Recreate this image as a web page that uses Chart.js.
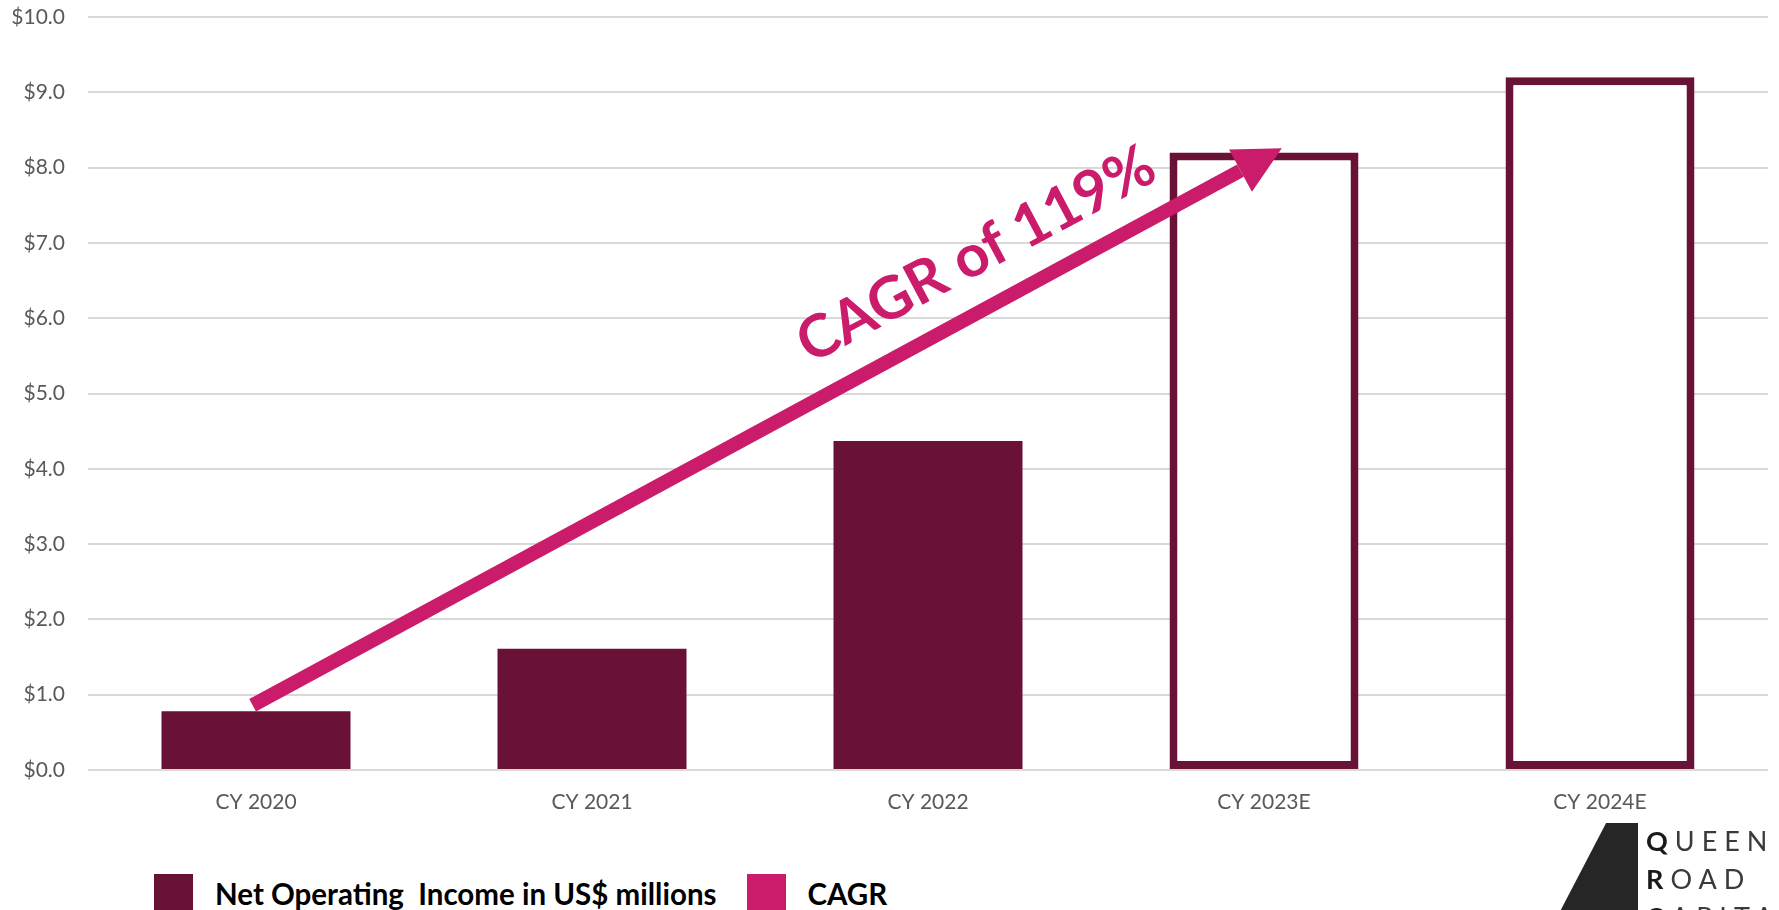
<!DOCTYPE html>
<html>
<head>
<meta charset="utf-8">
<title>Net Operating Income</title>
<script src="https://cdn.jsdelivr.net/npm/chart.js@4.4.0/dist/chart.umd.min.js"></script>
<style>
  html, body { margin: 0; padding: 0; background: #fff; overflow: hidden; }
  #wrap { position: relative; width: 1779px; height: 910px; overflow: hidden; font-family: Lato, "Open Sans", sans-serif; }
  #chart-box { position: absolute; left: 0; top: 0; width: 1779px; height: 840px; }
  .legend { position: absolute; left: 154px; top: 874px; display: flex; align-items: center; }
  .legend-item { display: flex; align-items: center; margin-right: 30px; font-weight: 700; font-size: 29.5px; color: #000; white-space: pre; }
  .legend-color { width: 39px; height: 39px; margin-right: 22px; flex: none; }
  .logo-mark { position: absolute; left: 1554px; top: 823px; width: 84px; height: 100px; background: #262626;
    clip-path: polygon(62% 0, 100% 0, 100% 100%, 0 100%); }
  .logo-text { position: absolute; left: 1646px; top: 822px; font-size: 27px; line-height: 38px; letter-spacing: 7px; color: #3a3a3a; }
  .logo-text b { color: #1a1a1a; }
</style>
</head>
<body>
<div id="wrap">
  <div id="chart-box"><canvas id="noi-chart"></canvas></div>
  <div id="noi-legend" class="legend"></div>
  <div class="logo-mark"></div>
  <div class="logo-text"><b>Q</b>UEEN<br><b>R</b>OAD<br><b>C</b>APITAL</div>
</div>
<script>
// Chart data
const categories = ['CY 2020', 'CY 2021', 'CY 2022', 'CY 2023E', 'CY 2024E'];
const noiValues = [0.78, 1.61, 4.37, 8.2, 9.2];
const isEstimate = [false, false, false, true, true];

// CAGR arrow: start and end of the shaft (x in category-index units)
const cagrX = [-0.01, 2.93];
const cagrY = [0.86, 7.96];
const cagrText = 'CAGR of 119%';

const MAROON = '#6a1138';
const PINK = '#cb1c6c';
const TICK_FONT = { family: 'Lato, "Open Sans", sans-serif', size: 21 };

// Draws the arrow head at the end of the CAGR line and the rotated label
const cagrArrow = {
  id: 'cagrArrow',
  afterDatasetsDraw: function(chart, args, opts) {
    const pts = chart.getDatasetMeta(1).data;
    if (pts.length < 2) return;
    const a = pts[0], b = pts[pts.length - 1];
    const ang = Math.atan2(b.y - a.y, b.x - a.x);
    const ctx = chart.ctx;

    ctx.save();
    ctx.translate(b.x, b.y);
    ctx.rotate(ang);
    ctx.beginPath();
    ctx.moveTo(opts.headLength, 0);
    ctx.lineTo(0, -opts.headWidth / 2);
    ctx.lineTo(0, opts.headWidth / 2);
    ctx.closePath();
    ctx.fillStyle = opts.color;
    ctx.fill();
    ctx.restore();

    // label sits above the shaft, squeezed a bit to look like a condensed face
    const lx = chart.scales.x2.getPixelForValue(opts.labelAt[0]);
    const ly = chart.scales.y.getPixelForValue(opts.labelAt[1]);
    ctx.save();
    ctx.translate(lx, ly);
    ctx.rotate(opts.labelAngle * Math.PI / 180);
    ctx.font = 'bold ' + opts.labelSize + 'px Lato, sans-serif';
    const w = ctx.measureText(opts.text).width;
    ctx.scale(opts.labelWidth / w, 1);
    ctx.textAlign = 'center';
    ctx.textBaseline = 'alphabetic';
    ctx.fillStyle = opts.color;
    ctx.fillText(opts.text, 0, 0);
    ctx.restore();
  }
};

const chart = new Chart(document.getElementById('noi-chart'), {
  type: 'bar',
  data: {
    labels: categories,
    datasets: [
      {
        type: 'bar',
        label: 'Net Operating  Income in US$ millions',
        data: noiValues,
        backgroundColor: isEstimate.map(e => e ? '#ffffff' : MAROON),
        borderColor: MAROON,
        borderWidth: isEstimate.map(e => e ? 8 : 0),
        borderSkipped: false,
        grouped: false,
        barPercentage: 0.5625,
        categoryPercentage: 1,
        legendColor: MAROON,
        order: 2
      },
      {
        type: 'line',
        label: 'CAGR',
        data: cagrX.map((x, i) => ({ x: x, y: cagrY[i] })),
        xAxisID: 'x2',
        borderColor: PINK,
        backgroundColor: PINK,
        borderWidth: 14,
        borderCapStyle: 'butt',
        pointRadius: 0,
        fill: false,
        legendColor: PINK,
        order: 1
      }
    ]
  },
  options: {
    responsive: true,
    maintainAspectRatio: false,
    animation: false,
    layout: { autoPadding: false, padding: { top: 17, right: 11, left: 0, bottom: 0 } },
    plugins: {
      legend: { display: false },
      tooltip: { enabled: false },
      cagrArrow: {
        color: PINK,
        headLength: 47,
        headWidth: 48,
        text: cagrText,
        labelAt: [2.17, 6.62],
        labelAngle: -28,
        labelSize: 59,
        labelWidth: 396
      }
    },
    scales: {
      x: {
        type: 'category',
        grid: { display: false },
        border: { display: false },
        ticks: { color: '#595959', font: TICK_FONT, padding: 12 },
        afterFit: function(scale) { scale.height = 70; }
      },
      x2: {
        type: 'linear',
        display: false,
        offset: false,
        grid: { offset: false },
        min: -0.5,
        max: 4.5
      },
      y: {
        min: 0,
        max: 10,
        border: { display: false },
        grid: { color: '#d9d9d9', lineWidth: 2, drawTicks: false },
        ticks: {
          stepSize: 1,
          color: '#595959',
          font: TICK_FONT,
          padding: 23,
          callback: function(value) { return '$' + value.toFixed(1); }
        },
        afterFit: function(scale) {
          scale.width = 88;
          scale.paddingTop = 0;
          scale.paddingBottom = 0;
        }
      }
    }
  },
  plugins: [cagrArrow]
});

// HTML legend built from the datasets
const legendContainer = document.getElementById('noi-legend');
chart.data.datasets.forEach(ds => {
  const legendItem = document.createElement('div');
  legendItem.className = 'legend-item';
  legendItem.innerHTML = `
    <div class="legend-color" style="background-color: ${ds.legendColor}"></div><span>${ds.label}</span>`;
  legendContainer.appendChild(legendItem);
});
</script>
</body>
</html>
